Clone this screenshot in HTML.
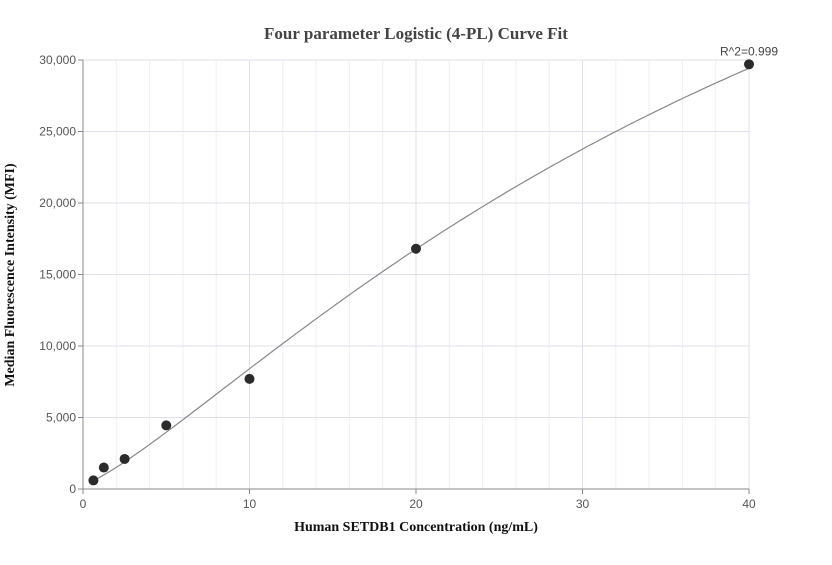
<!DOCTYPE html>
<html><head><meta charset="utf-8"><style>
body{margin:0;background:#fff;}
svg text{font-family:"Liberation Sans",sans-serif;}
</style></head><body>
<svg id="chart" width="832" height="560">
<text x="416" y="39" text-anchor="middle" font-family="Liberation Serif" font-weight="bold" font-size="17" fill="#444" style="font-family:'Liberation Serif',serif">Four parameter Logistic (4-PL) Curve Fit</text>
<g id="grid"></g><g id="axes"></g><g id="marks"></g>
<text x="416" y="531" text-anchor="middle" font-weight="bold" font-size="14" fill="#111" style="font-family:'Liberation Serif',serif">Human SETDB1 Concentration (ng/mL)</text>
<text transform="translate(14,275) rotate(-90)" text-anchor="middle" font-weight="bold" font-size="14" fill="#111" style="font-family:'Liberation Serif',serif">Median Fluorescence Intensity (MFI)</text>
</svg>
<script>
const xTicks=[0,10,20,30,40];
const yTicks=[0,5000,10000,15000,20000,25000,30000];
const concentrations=[0.625,1.25,2.5,5,10,20,40];
const mfiValues=[600,1500,2100,4450,7700,16800,29700];
const fitParams=[300,1.25,48,66000]; // a,b,c,d
const r2Label="R^2=0.999";
const NS="http://www.w3.org/2000/svg";
const X0=83,X1=749,Y0=489,Y1=60;
const sx=v=>X0+(v-0)/(40-0)*(X1-X0);
const sy=v=>Y0-(v-0)/(30000-0)*(Y0-Y1);
function mk(p,t,a){const e=document.createElementNS(NS,t);for(const k in a)e.setAttribute(k,a[k]);p.appendChild(e);return e;}
const grid=document.getElementById('grid'),axes=document.getElementById('axes'),marks=document.getElementById('marks');
for(let v=2;v<=40;v+=2){const l=mk(grid,'line',{x1:sx(v),x2:sx(v),y1:Y1,y2:Y0,stroke:v%10===0?'#e0e0ea':'#f0f0f5','stroke-width':1});

}
yTicks.forEach(v=>{if(v>0){const l=mk(grid,'line',{x1:X0,x2:X1,y1:sy(v),y2:sy(v),stroke:'#e0e0ea'});

}
const t=mk(axes,'text',{x:X0-7,y:sy(v)+4,'text-anchor':'end','font-size':12,fill:'#555'});t.textContent=v.toLocaleString('en-US');


mk(axes,'line',{x1:X0-5,x2:X0,y1:sy(v),y2:sy(v),stroke:'#888'});});
xTicks.forEach(v=>{const t=mk(axes,'text',{x:sx(v),y:Y0+19,'text-anchor':'middle','font-size':12,fill:'#555'});t.textContent=v;


mk(axes,'line',{x1:sx(v),x2:sx(v),y1:Y0,y2:Y0+5,stroke:'#888'});});
const ax=mk(axes,'path',{d:`M${X0},${Y1}V${Y0}H${X1}`,fill:'none',stroke:'#888'});


const [a,b,c,d]=fitParams;
const f=x=>d+(a-d)/(1+Math.pow(x/c,b));
let pd='';for(let i=0;i<=200;i++){const x=0.625+(40-0.625)*i/200;pd+=(i?'L':'M')+sx(x).toFixed(1)+','+sy(f(x)).toFixed(1);}
const curve=mk(marks,'path',{d:pd,fill:'none',stroke:'#888','stroke-width':1.2});


concentrations.forEach((x,i)=>{const p=mk(marks,'circle',{cx:sx(x),cy:sy(mfiValues[i]),r:5,fill:'#2b2b2b'});

});
const r=mk(marks,'text',{x:sx(40),y:sy(mfiValues[6])-9,'text-anchor':'middle','font-size':12,fill:'#444'});r.textContent=r2Label;


</script>
</body></html>
